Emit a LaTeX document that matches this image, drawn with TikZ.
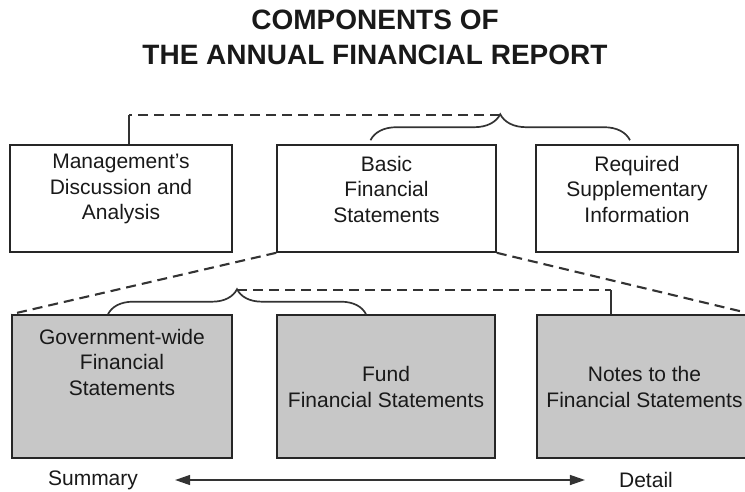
\documentclass[tikz,border=0pt]{standalone}
\usepackage{fontspec}
\setmainfont{Liberation Sans}
\usetikzlibrary{arrows.meta,decorations.pathreplacing}
\begin{document}
\begin{tikzpicture}[x=1pt, y=1pt,
  every node/.style={font=\fontsize{21}{25.5}\selectfont, align=center, inner sep=0pt, text=black!90},
  topbox/.style={draw=black!85, line width=1.6pt, minimum height=107pt},
  subbox/.style={draw=black!85, line width=1.6pt, fill=black!22, minimum height=143pt},
  split/.style={draw=black!80, line width=2.1pt, dash pattern=on 10pt off 6pt},
  link/.style={draw=black!80, line width=1.7pt},
  curly/.style={draw=black!80, line width=1.7pt, decorate, decoration={brace, amplitude=#1}}]
\useasboundingbox (0,0) rectangle (745,-491);
% title
\node[font=\fontsize{28}{35}\selectfont\bfseries] (title) at (375,-37) {COMPONENTS OF\\THE ANNUAL FINANCIAL REPORT};
% the three parts of the report
\node[topbox, minimum width=222pt] (mda) at (121,-198.5) {};
\node[topbox, minimum width=219pt] (bfs) at (386.5,-198.5) {};
\node[topbox, minimum width=202pt] (rsi) at (637,-198.5) {};
\node (mdatext) at (121,-189) {Management's\\Discussion and\\Analysis};
\node (bfstext) at (386.5,-189) {Basic\\Financial\\Statements};
\node (rsitext) at (637,-189) {Required\\Supplementary\\Information};
% basic statements split up
\node[subbox, minimum width=220pt] (gov) at (122,-386.5) {};
\node[subbox, minimum width=218pt] (fund) at (386,-386.5) {};
\node[subbox, minimum width=215pt] (notes) at (644.5,-386.5) {};
\node (govtext) at (122,-362) {Government-wide\\Financial\\Statements};
\node (fundtext) at (386,-387) {Fund\\Financial Statements};
\node (notestext) at (644.5,-387) {Notes to the\\Financial Statements};
\draw[split] (bfs.south west) -- (gov.north west);
\draw[split] (bfs.south east) -- (notes.north east);
% top grouping
\draw[curly=26pt] ([xshift=-16pt, yshift=4pt]bfs.north) -- ([xshift=-7pt, yshift=4pt]rsi.north);
\coordinate (toptip) at (500,-115);
\coordinate (topbend) at (129,-115);
\draw[split] (toptip) -- (topbend);
\draw[link] (topbend) -- (topbend |- mda.north);
% bottom grouping
\draw[curly=25pt] ([xshift=-14pt]gov.north) -- ([xshift=-20pt]fund.north);
\coordinate (subtip) at (237,-290);
\coordinate (subbend) at (611,-290);
\draw[split] (subtip) -- (subbend);
\draw[link] (subbend) -- (subbend |- notes.north);
% summary to detail
\node (summary) at (93,-480) {Summary};
\node (detail) at (646,-480) {Detail};
\draw[link, line width=1.4pt, {Triangle[length=15pt, width=10pt]}-{Triangle[length=15pt, width=10pt]}, shorten <=37pt, shorten >=34pt] (summary) -- (detail);
\end{tikzpicture}
\end{document}
